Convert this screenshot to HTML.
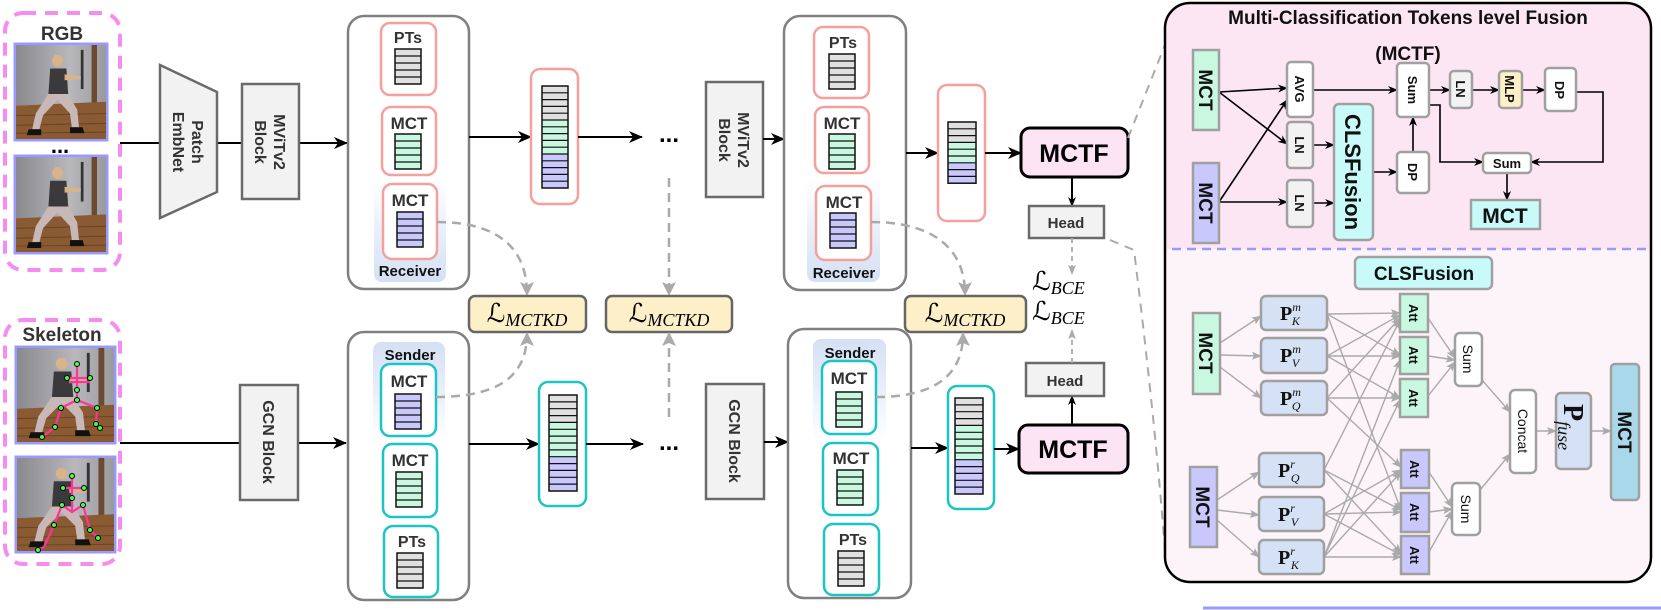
<!DOCTYPE html>
<html><head><meta charset="utf-8"><style>
html,body{margin:0;padding:0;background:#fff;}
svg{display:block;font-family:"Liberation Sans",sans-serif;}
.b{font-weight:bold;}
</style></head><body>
<svg width="1661" height="610" viewBox="0 0 1661 610" xmlns="http://www.w3.org/2000/svg">
<defs>
<marker id="ab" markerUnits="userSpaceOnUse" markerWidth="14" markerHeight="12" refX="13" refY="6" orient="auto"><path d="M0,0 L14,6 L0,12 L4,6 Z" fill="#000"/></marker>
<marker id="as" markerUnits="userSpaceOnUse" markerWidth="10" markerHeight="8" refX="9" refY="4" orient="auto"><path d="M0,0 L10,4 L0,8 L3,4 Z" fill="#000"/></marker>
<marker id="ag" markerUnits="userSpaceOnUse" markerWidth="14" markerHeight="14" refX="12" refY="7" orient="auto"><path d="M0,0 L14,7 L0,14 L3,7 Z" fill="#aaa"/></marker>
<marker id="ag2" markerUnits="userSpaceOnUse" markerWidth="10" markerHeight="8" refX="9" refY="4" orient="auto"><path d="M0,0 L10,4 L0,8 L2,4 Z" fill="#aaa"/></marker>
<linearGradient id="rcv" x1="0" y1="0" x2="0" y2="1"><stop offset="0" stop-color="#fff"/><stop offset="1" stop-color="#d4e0f4"/></linearGradient>
<linearGradient id="snd" x1="0" y1="0" x2="0" y2="1"><stop offset="0" stop-color="#d4e0f4"/><stop offset="1" stop-color="#fff"/></linearGradient>
<linearGradient id="wall" x1="0" y1="0" x2="1" y2="0"><stop offset="0" stop-color="#8a8a8e"/><stop offset="0.6" stop-color="#b8b8bc"/><stop offset="1" stop-color="#9a9a9e"/></linearGradient>
<g id="s5g"><rect width="26" height="35" fill="#e0e0e0" stroke="#111" stroke-width="1.5"/><path d="M0 7H26M0 14H26M0 21H26M0 28H26" stroke="#111" stroke-width="1.3"/></g>
<g id="s5n"><rect width="26" height="35" fill="#c8f8e0" stroke="#111" stroke-width="1.5"/><path d="M0 7H26M0 14H26M0 21H26M0 28H26" stroke="#111" stroke-width="1.3"/></g>
<g id="s5p"><rect width="26" height="35" fill="#c8c8fc" stroke="#111" stroke-width="1.5"/><path d="M0 7H26M0 14H26M0 21H26M0 28H26" stroke="#111" stroke-width="1.3"/></g>
<g id="s15"><rect width="26" height="34" fill="#e0e0e0"/><rect y="34" width="26" height="34" fill="#c8f8e0"/><rect y="68" width="26" height="34" fill="#c8c8fc"/><rect width="26" height="102" fill="none" stroke="#111" stroke-width="1.5"/><path d="M0 6.8H26M0 13.6H26M0 20.4H26M0 27.2H26M0 34H26M0 40.8H26M0 47.6H26M0 54.4H26M0 61.2H26M0 68H26M0 74.8H26M0 81.6H26M0 88.4H26M0 95.2H26" stroke="#111" stroke-width="1.2"/></g>
<g id="s9"><rect width="28" height="20.4" fill="#e0e0e0"/><rect y="20.4" width="28" height="20.4" fill="#c8f8e0"/><rect y="40.8" width="28" height="20.4" fill="#c8c8fc"/><rect width="28" height="61.2" fill="none" stroke="#111" stroke-width="1.5"/><path d="M0 6.8H28M0 13.6H28M0 20.4H28M0 27.2H28M0 34H28M0 40.8H28M0 47.6H28M0 54.4H28" stroke="#111" stroke-width="1.2"/></g>
<g id="s14"><rect width="28" height="27.4" fill="#e0e0e0"/><rect y="27.4" width="28" height="34.3" fill="#c8f8e0"/><rect y="61.7" width="28" height="34.3" fill="#c8c8fc"/><rect width="28" height="96" fill="none" stroke="#111" stroke-width="1.5"/><path d="M0 6.86H28M0 13.7H28M0 20.6H28M0 27.4H28M0 34.3H28M0 41.1H28M0 48H28M0 54.9H28M0 61.7H28M0 68.6H28M0 75.4H28M0 82.3H28M0 89.1H28" stroke="#111" stroke-width="1.2"/></g>
<symbol id="photo" viewBox="0 0 100 96" preserveAspectRatio="none">
<rect width="100" height="96" fill="url(#wall)"/>
<rect x="84" y="0" width="6" height="70" fill="#6a4a30"/>
<rect x="72" y="5" width="3" height="40" fill="#333"/>
<path d="M0 62 L100 58 L100 96 L0 96Z" fill="#8a5a32"/>
<path d="M0 72 L100 70 M0 82 L100 80 M0 90 L100 89" stroke="#6b4422" stroke-width="1"/>
<circle cx="46" cy="16" r="6" fill="#d9b48a"/>
<path d="M38 24 L56 24 L58 50 L36 50Z" fill="#3a3a3c"/>
<path d="M54 30 L72 32 L72 35 L54 36Z" fill="#d9b48a"/>
<path d="M36 50 L22 70 L18 86 L26 86 L30 72 L46 56 L60 70 L62 84 L70 84 L68 66 L58 50Z" fill="#c8b8b8"/>
<path d="M14 86 L28 86 L28 92 L12 92Z M60 84 L74 84 L76 90 L60 90Z" fill="#111"/>
</symbol>
</defs>

<!-- ============ LEFT INPUTS ============ -->
<rect x="5" y="13" width="115" height="257" rx="18" fill="none" stroke="#f78cf0" stroke-width="4" stroke-dasharray="13 9"/>
<text x="62" y="40" font-size="19" class="b" fill="#333" text-anchor="middle">RGB</text>
<rect x="15" y="44" width="92" height="96" fill="none" stroke="#9999ff" stroke-width="3"/>
<use href="#photo" x="16" y="45" width="90" height="94"/>
<text x="60" y="153" font-size="22" class="b" text-anchor="middle">...</text>
<rect x="15" y="156" width="92" height="97" fill="none" stroke="#9999ff" stroke-width="3"/>
<use href="#photo" x="16" y="157" width="90" height="95"/>

<rect x="5" y="320" width="115" height="244" rx="18" fill="none" stroke="#f78cf0" stroke-width="4" stroke-dasharray="13 9"/>
<text x="62" y="341" font-size="19" class="b" fill="#333" text-anchor="middle">Skeleton</text>
<rect x="16" y="347" width="99" height="96" fill="none" stroke="#9999ff" stroke-width="3"/>
<use href="#photo" x="17" y="348" width="97" height="94"/>
<path d="M77 364 L77 400 M67 378 L90 378 M61 408 L77 400 L97 408 L96 424 L100 428 M61 408 L55 427 L42 437 M70 382 L90 382" stroke="#ff3399" stroke-width="2.2" fill="none"/>
<g fill="#4f4" stroke="#000" stroke-width="1"><circle cx="77" cy="364" r="2.5"/><circle cx="67" cy="378" r="2.5"/><circle cx="90" cy="378" r="2.5"/><circle cx="77" cy="390" r="2.5"/><circle cx="77" cy="400" r="2.5"/><circle cx="61" cy="408" r="2.5"/><circle cx="97" cy="408" r="2.5"/><circle cx="96" cy="424" r="2.5"/><circle cx="100" cy="428" r="2.5"/><circle cx="55" cy="427" r="2.5"/><circle cx="42" cy="437" r="2.5"/></g>
<text x="64" y="460" font-size="22" class="b" text-anchor="middle">...</text>
<rect x="16" y="457" width="99" height="95" fill="none" stroke="#9999ff" stroke-width="3"/>
<use href="#photo" x="17" y="458" width="97" height="93"/>
<path d="M72 476 L72 512 M63 488 L84 488 M62 505 L72 512 L83 505 L90 530 L98 538 M62 505 L54 525 L44 547 L38 550" stroke="#ff3399" stroke-width="2.2" fill="none"/>
<g fill="#4f4" stroke="#000" stroke-width="1"><circle cx="72" cy="476" r="2.5"/><circle cx="63" cy="488" r="2.5"/><circle cx="84" cy="488" r="2.5"/><circle cx="72" cy="498" r="2.5"/><circle cx="62" cy="505" r="2.5"/><circle cx="83" cy="505" r="2.5"/><circle cx="90" cy="530" r="2.5"/><circle cx="98" cy="538" r="2.5"/><circle cx="54" cy="525" r="2.5"/><circle cx="38" cy="550" r="2.5"/></g>

<!-- ============ TOP STREAM ============ -->
<line x1="120" y1="143" x2="347" y2="143" stroke="#000" stroke-width="2" marker-end="url(#ab)"/>
<path d="M160 65 L217 92 L217 192 L160 218 Z" fill="#f2f2f2" stroke="#6a6a6a" stroke-width="2.5"/>
<text transform="rotate(90 188 142)" x="188" y="142" font-size="16" class="b" fill="#333" text-anchor="middle"><tspan x="188" dy="-4">Patch</tspan><tspan x="188" dy="19">EmbNet</tspan></text>
<rect x="242" y="84" width="57" height="115" fill="#f2f2f2" stroke="#6a6a6a" stroke-width="2.5"/>
<text transform="rotate(90 270 142)" x="270" y="142" font-size="16" class="b" fill="#333" text-anchor="middle"><tspan x="270" dy="-4">MViTv2</tspan><tspan x="270" dy="19">Block</tspan></text>

<rect x="348" y="16" width="121" height="273" rx="16" fill="#fff" stroke="#808080" stroke-width="2.5"/>
<rect x="381" y="23" width="55" height="72" rx="9" fill="#fff" stroke="#f4a09c" stroke-width="2.5"/>
<text x="408" y="43" font-size="16" class="b" fill="#333" text-anchor="middle">PTs</text>
<use href="#s5g" x="395" y="49"/>
<rect x="382" y="107" width="54" height="68" rx="9" fill="#fff" stroke="#f4a09c" stroke-width="2.5"/>
<text x="409" y="129" font-size="17" class="b" fill="#333" text-anchor="middle">MCT</text>
<use href="#s5n" x="395" y="134"/>
<rect x="374" y="180" width="72" height="102" rx="8" fill="url(#rcv)"/>
<rect x="383" y="184" width="54" height="75" rx="9" fill="#fff" stroke="#f4a09c" stroke-width="2.5"/>
<text x="410" y="206" font-size="17" class="b" fill="#333" text-anchor="middle">MCT</text>
<use href="#s5p" x="397" y="212"/>
<text x="410" y="276" font-size="15" class="b" fill="#111" text-anchor="middle">Receiver</text>

<line x1="469" y1="137" x2="531" y2="137" stroke="#000" stroke-width="2" marker-end="url(#ab)"/>
<rect x="531" y="69" width="47" height="135" rx="9" fill="#fff" stroke="#f4a09c" stroke-width="2.5"/>
<use href="#s15" x="542" y="86"/>
<line x1="578" y1="137" x2="642" y2="137" stroke="#000" stroke-width="2" marker-end="url(#ab)"/>
<text x="669" y="142" font-size="24" class="b" text-anchor="middle">...</text>

<line x1="669" y1="178" x2="669" y2="294" stroke="#aaa" stroke-width="2.5" stroke-dasharray="9 6" marker-end="url(#ag)"/>

<rect x="706" y="82" width="57" height="115" fill="#f2f2f2" stroke="#6a6a6a" stroke-width="2.5"/>
<text transform="rotate(90 734 140)" x="734" y="140" font-size="16" class="b" fill="#333" text-anchor="middle"><tspan x="734" dy="-4">MViTv2</tspan><tspan x="734" dy="19">Block</tspan></text>
<line x1="763" y1="139" x2="784" y2="139" stroke="#000" stroke-width="2" marker-end="url(#ab)"/>

<rect x="784" y="16" width="122" height="274" rx="16" fill="#fff" stroke="#808080" stroke-width="2.5"/>
<rect x="814" y="27" width="55" height="71" rx="9" fill="#fff" stroke="#f4a09c" stroke-width="2.5"/>
<text x="843" y="48" font-size="16" class="b" fill="#333" text-anchor="middle">PTs</text>
<use href="#s5g" x="829" y="54"/>
<rect x="815" y="107" width="54" height="66" rx="9" fill="#fff" stroke="#f4a09c" stroke-width="2.5"/>
<text x="842" y="129" font-size="17" class="b" fill="#333" text-anchor="middle">MCT</text>
<use href="#s5n" x="829" y="134"/>
<rect x="807" y="177" width="73" height="105" rx="8" fill="url(#rcv)"/>
<rect x="816" y="186" width="55" height="74" rx="9" fill="#fff" stroke="#f4a09c" stroke-width="2.5"/>
<text x="844" y="208" font-size="17" class="b" fill="#333" text-anchor="middle">MCT</text>
<use href="#s5p" x="830" y="213"/>
<text x="844" y="278" font-size="15" class="b" fill="#111" text-anchor="middle">Receiver</text>

<line x1="906" y1="153" x2="938" y2="153" stroke="#000" stroke-width="2" marker-end="url(#ab)"/>
<rect x="938" y="85" width="47" height="136" rx="9" fill="#fff" stroke="#f4a09c" stroke-width="2.5"/>
<use href="#s9" x="948" y="122"/>
<line x1="985" y1="153" x2="1021" y2="153" stroke="#000" stroke-width="2" marker-end="url(#ab)"/>
<rect x="1021" y="128" width="107" height="49" rx="9" fill="#fce4f4" stroke="#000" stroke-width="3"/>
<text x="1074" y="162" font-size="25" class="b" text-anchor="middle">MCTF</text>
<line x1="1072" y1="177" x2="1072" y2="206" stroke="#000" stroke-width="2" marker-end="url(#as)"/>
<rect x="1029" y="206" width="75" height="32" fill="#f2f2f2" stroke="#6a6a6a" stroke-width="2.5"/>
<text x="1066" y="228" font-size="15" class="b" fill="#333" text-anchor="middle">Head</text>
<line x1="1072" y1="238" x2="1072" y2="274" stroke="#aaa" stroke-width="1.8" stroke-dasharray="5 4" marker-end="url(#ag2)"/>

<path d="M437 222 C500 222 527 250 527 294" fill="none" stroke="#aaa" stroke-width="2.5" stroke-dasharray="9 6" marker-end="url(#ag)"/>
<path d="M871 222 C935 222 965 250 965 294" fill="none" stroke="#aaa" stroke-width="2.5" stroke-dasharray="9 6" marker-end="url(#ag)"/>

<g font-family="'Liberation Serif','DejaVu Serif',serif">
<rect x="469" y="296" width="117" height="36" rx="6" fill="#fdf0c8" stroke="#666" stroke-width="2.5"/>
<text x="527" y="322" text-anchor="middle"><tspan font-size="26">ℒ</tspan><tspan font-size="18" font-style="italic" dy="4">MCTKD</tspan></text>
<rect x="606" y="296" width="126" height="36" rx="6" fill="#fdf0c8" stroke="#666" stroke-width="2.5"/>
<text x="669" y="322" text-anchor="middle"><tspan font-size="26">ℒ</tspan><tspan font-size="18" font-style="italic" dy="4">MCTKD</tspan></text>
<rect x="905" y="296" width="121" height="36" rx="6" fill="#fdf0c8" stroke="#666" stroke-width="2.5"/>
<text x="965" y="322" text-anchor="middle"><tspan font-size="26">ℒ</tspan><tspan font-size="18" font-style="italic" dy="4">MCTKD</tspan></text>
<text x="1032" y="290"><tspan font-size="26">ℒ</tspan><tspan font-size="18" font-style="italic" dy="4">BCE</tspan></text>
<text x="1032" y="320"><tspan font-size="26">ℒ</tspan><tspan font-size="18" font-style="italic" dy="4">BCE</tspan></text>
</g>

<!-- ============ BOTTOM STREAM ============ -->
<line x1="120" y1="443" x2="346" y2="443" stroke="#000" stroke-width="2" marker-end="url(#ab)"/>
<rect x="240" y="385" width="58" height="115" fill="#f2f2f2" stroke="#6a6a6a" stroke-width="2.5"/>
<text transform="rotate(90 269 442)" x="269" y="448" font-size="16" class="b" fill="#333" text-anchor="middle">GCN Block</text>

<rect x="348" y="332" width="121" height="268" rx="16" fill="#fff" stroke="#808080" stroke-width="2.5"/>
<rect x="373" y="342" width="72" height="101" rx="8" fill="url(#snd)"/>
<text x="410" y="360" font-size="15" class="b" fill="#111" text-anchor="middle">Sender</text>
<rect x="381" y="364" width="55" height="72" rx="9" fill="#fff" stroke="#1cc4c4" stroke-width="2.5"/>
<text x="409" y="387" font-size="17" class="b" fill="#333" text-anchor="middle">MCT</text>
<use href="#s5p" x="395" y="394"/>
<rect x="383" y="444" width="54" height="73" rx="9" fill="#fff" stroke="#1cc4c4" stroke-width="2.5"/>
<text x="410" y="466" font-size="17" class="b" fill="#333" text-anchor="middle">MCT</text>
<use href="#s5n" x="396" y="472"/>
<rect x="384" y="526" width="54" height="71" rx="9" fill="#fff" stroke="#1cc4c4" stroke-width="2.5"/>
<text x="412" y="547" font-size="16" class="b" fill="#333" text-anchor="middle">PTs</text>
<use href="#s5g" x="397" y="553"/>

<line x1="469" y1="444" x2="539" y2="444" stroke="#000" stroke-width="2" marker-end="url(#ab)"/>
<rect x="539" y="382" width="47" height="124" rx="9" fill="#fff" stroke="#1cc4c4" stroke-width="2.5"/>
<use href="#s14" x="549" y="395"/>
<line x1="586" y1="444" x2="643" y2="444" stroke="#000" stroke-width="2" marker-end="url(#ab)"/>
<text x="669" y="450" font-size="24" class="b" text-anchor="middle">...</text>
<line x1="669" y1="417" x2="669" y2="334" stroke="#aaa" stroke-width="2.5" stroke-dasharray="9 6" marker-end="url(#ag)"/>

<rect x="706" y="384" width="58" height="115" fill="#f2f2f2" stroke="#6a6a6a" stroke-width="2.5"/>
<text transform="rotate(90 735 441)" x="735" y="447" font-size="16" class="b" fill="#333" text-anchor="middle">GCN Block</text>
<line x1="764" y1="442" x2="788" y2="442" stroke="#000" stroke-width="2" marker-end="url(#ab)"/>

<rect x="788" y="329" width="123" height="269" rx="16" fill="#fff" stroke="#808080" stroke-width="2.5"/>
<rect x="813" y="339" width="73" height="103" rx="8" fill="url(#snd)"/>
<text x="850" y="358" font-size="15" class="b" fill="#111" text-anchor="middle">Sender</text>
<rect x="822" y="361" width="54" height="73" rx="9" fill="#fff" stroke="#1cc4c4" stroke-width="2.5"/>
<text x="849" y="384" font-size="17" class="b" fill="#333" text-anchor="middle">MCT</text>
<use href="#s5n" x="836" y="392"/>
<rect x="823" y="443" width="55" height="72" rx="9" fill="#fff" stroke="#1cc4c4" stroke-width="2.5"/>
<text x="851" y="464" font-size="17" class="b" fill="#333" text-anchor="middle">MCT</text>
<use href="#s5n" x="837" y="470"/>
<rect x="824" y="524" width="55" height="71" rx="9" fill="#fff" stroke="#1cc4c4" stroke-width="2.5"/>
<text x="853" y="545" font-size="16" class="b" fill="#333" text-anchor="middle">PTs</text>
<use href="#s5g" x="838" y="551"/>

<line x1="911" y1="448" x2="948" y2="448" stroke="#000" stroke-width="2" marker-end="url(#ab)"/>
<rect x="948" y="386" width="46" height="123" rx="9" fill="#fff" stroke="#1cc4c4" stroke-width="2.5"/>
<use href="#s14" x="955" y="398"/>
<line x1="994" y1="449" x2="1019" y2="449" stroke="#000" stroke-width="2" marker-end="url(#ab)"/>
<rect x="1019" y="425" width="109" height="48" rx="9" fill="#fce4f4" stroke="#000" stroke-width="3"/>
<text x="1073" y="458" font-size="25" class="b" text-anchor="middle">MCTF</text>
<line x1="1072" y1="425" x2="1072" y2="396" stroke="#000" stroke-width="2" marker-end="url(#as)"/>
<rect x="1026" y="363" width="78" height="33" fill="#f2f2f2" stroke="#6a6a6a" stroke-width="2.5"/>
<text x="1065" y="386" font-size="15" class="b" fill="#333" text-anchor="middle">Head</text>
<line x1="1072" y1="363" x2="1072" y2="330" stroke="#aaa" stroke-width="1.8" stroke-dasharray="5 4" marker-end="url(#ag2)"/>

<path d="M436 397 C500 397 527 375 527 334" fill="none" stroke="#aaa" stroke-width="2.5" stroke-dasharray="9 6" marker-end="url(#ag)"/>
<path d="M876 397 C935 397 963 375 963 334" fill="none" stroke="#aaa" stroke-width="2.5" stroke-dasharray="9 6" marker-end="url(#ag)"/>

<path d="M1128 138 L1165 45" stroke="#aaa" stroke-width="2" stroke-dasharray="9 7" fill="none"/>
<path d="M1110 240 L1134 250 C1150 380 1160 480 1166 565" stroke="#aaa" stroke-width="2" stroke-dasharray="9 7" fill="none"/>

<!-- ============ RIGHT PANEL ============ -->
<rect x="1165" y="3" width="486" height="579" rx="25" fill="#fdf4f9"/>
<path d="M1165 249 V28 Q1165 3 1190 3 H1626 Q1651 3 1651 28 V249 Z" fill="#fde6f4"/>
<rect x="1165" y="3" width="486" height="579" rx="25" fill="none" stroke="#000" stroke-width="2.5"/>
<text x="1408" y="24" font-size="19" class="b" fill="#111" text-anchor="middle">Multi-Classification Tokens level Fusion</text>
<text x="1408" y="60" font-size="19" class="b" fill="#111" text-anchor="middle">(MCTF)</text>
<line x1="1172" y1="249" x2="1651" y2="249" stroke="#9999ff" stroke-width="2.5" stroke-dasharray="9 6"/>
<line x1="1203" y1="608" x2="1661" y2="608" stroke="#9999ff" stroke-width="3"/>

<g stroke="#000" stroke-width="1.6" fill="none">
<line x1="1219" y1="92" x2="1287" y2="88" marker-end="url(#as)"/>
<line x1="1219" y1="92" x2="1287" y2="144" marker-end="url(#as)"/>
<line x1="1219" y1="202" x2="1287" y2="100" marker-end="url(#as)"/>
<line x1="1219" y1="202" x2="1287" y2="202" marker-end="url(#as)"/>
<line x1="1313" y1="145" x2="1334" y2="145" marker-end="url(#as)"/>
<line x1="1313" y1="203" x2="1334" y2="203" marker-end="url(#as)"/>
<line x1="1313" y1="90" x2="1397" y2="90" marker-end="url(#as)"/>
<line x1="1373" y1="172" x2="1397" y2="172" marker-end="url(#as)"/>
<line x1="1413" y1="152" x2="1413" y2="117" marker-end="url(#as)"/>
<line x1="1429" y1="90" x2="1450" y2="90" marker-end="url(#as)"/>
<line x1="1472" y1="90" x2="1499" y2="90" marker-end="url(#as)"/>
<line x1="1522" y1="90" x2="1545" y2="90" marker-end="url(#as)"/>
<polyline points="1576,92 1603,92 1603,162 1531,162" marker-end="url(#as)"/>
<polyline points="1429,105 1440,105 1440,162 1483,162" marker-end="url(#as)"/>
<line x1="1507" y1="173" x2="1507" y2="200" marker-end="url(#as)"/>
</g>
<g stroke="#a0a0a0" stroke-width="2.5">
<rect x="1193" y="50" width="26" height="80" fill="#c8f8e0"/>
<rect x="1193" y="163" width="26" height="80" fill="#c8c8fc"/>
<rect x="1287" y="62" width="26" height="55" rx="4" fill="#fff"/>
<rect x="1287" y="122" width="26" height="46" rx="4" fill="#f2f2f2"/>
<rect x="1287" y="180" width="26" height="47" rx="4" fill="#f2f2f2"/>
<rect x="1334" y="104" width="39" height="136" rx="5" fill="#c8fafa"/>
<rect x="1397" y="63" width="32" height="54" rx="4" fill="#fff"/>
<rect x="1397" y="152" width="32" height="41" rx="4" fill="#fff"/>
<rect x="1450" y="71" width="22" height="37" rx="4" fill="#f2f2f2"/>
<rect x="1499" y="71" width="23" height="37" rx="4" fill="#fdf0c8"/>
<rect x="1545" y="68" width="31" height="43" rx="4" fill="#fff"/>
<rect x="1483" y="153" width="48" height="20" rx="4" fill="#fff"/>
<rect x="1471" y="200" width="69" height="29" fill="#c8fafa"/>
</g>
<g class="b" fill="#111" text-anchor="middle">
<text transform="rotate(90 1206 90)" x="1206" y="97" font-size="19">MCT</text>
<text transform="rotate(90 1206 203)" x="1206" y="210" font-size="19">MCT</text>
<text transform="rotate(90 1300 89)" x="1300" y="94" font-size="13">AVG</text>
<text transform="rotate(90 1300 145)" x="1300" y="150" font-size="13">LN</text>
<text transform="rotate(90 1300 203)" x="1300" y="208" font-size="13">LN</text>
<text transform="rotate(90 1353 172)" x="1353" y="180" font-size="22">CLSFusion</text>
<text transform="rotate(90 1413 90)" x="1413" y="95" font-size="13">Sum</text>
<text transform="rotate(90 1413 172)" x="1413" y="177" font-size="13">DP</text>
<text transform="rotate(90 1461 89)" x="1461" y="94" font-size="13">LN</text>
<text transform="rotate(90 1510 89)" x="1510" y="94" font-size="13">MLP</text>
<text transform="rotate(90 1560 90)" x="1560" y="95" font-size="13">DP</text>
<text x="1507" y="168" font-size="13">Sum</text>
<text x="1505" y="223" font-size="21">MCT</text>
</g>

<g stroke="#aaa" stroke-width="1.4" fill="none">
<line x1="1220" y1="343" x2="1261" y2="316" marker-end="url(#ag2)"/>
<line x1="1220" y1="355" x2="1261" y2="356" marker-end="url(#ag2)"/>
<line x1="1220" y1="367" x2="1261" y2="398" marker-end="url(#ag2)"/>
<line x1="1217" y1="500" x2="1259" y2="472" marker-end="url(#ag2)"/>
<line x1="1217" y1="510" x2="1259" y2="515" marker-end="url(#ag2)"/>
<line x1="1217" y1="520" x2="1259" y2="557" marker-end="url(#ag2)"/>
<line x1="1327" y1="314" x2="1400" y2="313" marker-end="url(#ag2)"/>
<line x1="1327" y1="314" x2="1400" y2="355" marker-end="url(#ag2)"/>
<line x1="1327" y1="314" x2="1401" y2="510" marker-end="url(#ag2)"/>
<line x1="1327" y1="356" x2="1400" y2="315" marker-end="url(#ag2)"/>
<line x1="1327" y1="356" x2="1400" y2="356" marker-end="url(#ag2)"/>
<line x1="1327" y1="356" x2="1400" y2="398" marker-end="url(#ag2)"/>
<line x1="1327" y1="398" x2="1400" y2="318" marker-end="url(#ag2)"/>
<line x1="1327" y1="398" x2="1400" y2="398" marker-end="url(#ag2)"/>
<line x1="1327" y1="398" x2="1401" y2="467" marker-end="url(#ag2)"/>
<line x1="1324" y1="470" x2="1400" y2="320" marker-end="url(#ag2)"/>
<line x1="1324" y1="470" x2="1401" y2="510" marker-end="url(#ag2)"/>
<line x1="1324" y1="470" x2="1401" y2="553" marker-end="url(#ag2)"/>
<line x1="1324" y1="514" x2="1401" y2="470" marker-end="url(#ag2)"/>
<line x1="1324" y1="514" x2="1401" y2="512" marker-end="url(#ag2)"/>
<line x1="1324" y1="514" x2="1401" y2="555" marker-end="url(#ag2)"/>
<line x1="1324" y1="557" x2="1400" y2="360" marker-end="url(#ag2)"/>
<line x1="1324" y1="557" x2="1401" y2="472" marker-end="url(#ag2)"/>
<line x1="1324" y1="557" x2="1401" y2="557" marker-end="url(#ag2)"/>
<line x1="1324" y1="557" x2="1400" y2="400" marker-end="url(#ag2)"/>
<line x1="1428" y1="318" x2="1455" y2="358" marker-end="url(#ag2)"/>
<line x1="1428" y1="356" x2="1455" y2="360" marker-end="url(#ag2)"/>
<line x1="1428" y1="396" x2="1455" y2="362" marker-end="url(#ag2)"/>
<line x1="1429" y1="472" x2="1452" y2="507" marker-end="url(#ag2)"/>
<line x1="1429" y1="512" x2="1452" y2="509" marker-end="url(#ag2)"/>
<line x1="1429" y1="552" x2="1452" y2="511" marker-end="url(#ag2)"/>
<line x1="1482" y1="380" x2="1510" y2="412" marker-end="url(#ag2)"/>
<line x1="1480" y1="490" x2="1510" y2="454" marker-end="url(#ag2)"/>
<line x1="1536" y1="431" x2="1556" y2="431" marker-end="url(#ag2)"/>
<line x1="1591" y1="431" x2="1611" y2="431" marker-end="url(#ag2)"/>
</g>
<g stroke="#a0a0a0" stroke-width="2.5">
<rect x="1355" y="257" width="137" height="32" rx="5" fill="#c8fafa"/>
<rect x="1193" y="313" width="27" height="81" fill="#c8f8e0"/>
<rect x="1190" y="467" width="27" height="80" fill="#c8c8fc"/>
<rect x="1261" y="296" width="66" height="34" rx="5" fill="#d5e1f4"/>
<rect x="1261" y="338" width="66" height="35" rx="5" fill="#d5e1f4"/>
<rect x="1261" y="381" width="66" height="34" rx="5" fill="#d5e1f4"/>
<rect x="1259" y="453" width="65" height="34" rx="5" fill="#d5e1f4"/>
<rect x="1259" y="497" width="65" height="34" rx="5" fill="#d5e1f4"/>
<rect x="1259" y="540" width="65" height="34" rx="5" fill="#d5e1f4"/>
<rect x="1400" y="294" width="28" height="38" fill="#c8f8e0"/>
<rect x="1400" y="337" width="28" height="37" fill="#c8f8e0"/>
<rect x="1400" y="379" width="28" height="38" fill="#c8f8e0"/>
<rect x="1401" y="450" width="28" height="38" fill="#c8c8fc"/>
<rect x="1401" y="493" width="28" height="39" fill="#c8c8fc"/>
<rect x="1401" y="536" width="28" height="38" fill="#c8c8fc"/>
<rect x="1455" y="333" width="27" height="53" rx="5" fill="#fff"/>
<rect x="1452" y="483" width="28" height="52" rx="5" fill="#fff"/>
<rect x="1510" y="390" width="26" height="83" rx="5" fill="#fff"/>
<rect x="1556" y="393" width="35" height="76" rx="5" fill="#d5e1f4"/>
<rect x="1611" y="364" width="28" height="136" rx="4" fill="#a9d8ea"/>
</g>
<g class="b" fill="#111" text-anchor="middle">
<text x="1424" y="280" font-size="19">CLSFusion</text>
<text transform="rotate(90 1206 353)" x="1206" y="360" font-size="19">MCT</text>
<text transform="rotate(90 1203 507)" x="1203" y="514" font-size="19">MCT</text>
<text transform="rotate(90 1414 313)" x="1414" y="318" font-size="13">Att</text>
<text transform="rotate(90 1414 355)" x="1414" y="360" font-size="13">Att</text>
<text transform="rotate(90 1414 398)" x="1414" y="403" font-size="13">Att</text>
<text transform="rotate(90 1415 469)" x="1415" y="474" font-size="13">Att</text>
<text transform="rotate(90 1415 512)" x="1415" y="517" font-size="13">Att</text>
<text transform="rotate(90 1415 555)" x="1415" y="560" font-size="13">Att</text>
<text transform="rotate(90 1468 359)" x="1468" y="364" font-size="14" font-weight="normal">Sum</text>
<text transform="rotate(90 1466 509)" x="1466" y="514" font-size="14" font-weight="normal">Sum</text>
<text transform="rotate(90 1523 431)" x="1523" y="436" font-size="14" font-weight="normal">Concat</text>
<text transform="rotate(90 1625 432)" x="1625" y="439" font-size="19">MCT</text>
</g>
<g font-family="'Liberation Serif','DejaVu Serif',serif" fill="#111">
<text x="1280" y="320" font-size="20" font-weight="bold">P<tspan font-size="12" font-style="italic" font-weight="normal" dy="-9">m</tspan><tspan font-size="12" font-style="italic" font-weight="normal" dx="-9" dy="14">K</tspan></text>
<text x="1280" y="362" font-size="20" font-weight="bold">P<tspan font-size="12" font-style="italic" font-weight="normal" dy="-9">m</tspan><tspan font-size="12" font-style="italic" font-weight="normal" dx="-9" dy="14">V</tspan></text>
<text x="1280" y="405" font-size="20" font-weight="bold">P<tspan font-size="12" font-style="italic" font-weight="normal" dy="-9">m</tspan><tspan font-size="12" font-style="italic" font-weight="normal" dx="-9" dy="14">Q</tspan></text>
<text x="1278" y="477" font-size="20" font-weight="bold">P<tspan font-size="12" font-style="italic" font-weight="normal" dy="-9">r</tspan><tspan font-size="12" font-style="italic" font-weight="normal" dx="-4" dy="14">Q</tspan></text>
<text x="1278" y="521" font-size="20" font-weight="bold">P<tspan font-size="12" font-style="italic" font-weight="normal" dy="-9">r</tspan><tspan font-size="12" font-style="italic" font-weight="normal" dx="-4" dy="14">V</tspan></text>
<text x="1278" y="564" font-size="20" font-weight="bold">P<tspan font-size="12" font-style="italic" font-weight="normal" dy="-9">r</tspan><tspan font-size="12" font-style="italic" font-weight="normal" dx="-4" dy="14">K</tspan></text>
<text transform="rotate(90 1573 431)" x="1546" y="440" font-size="28" font-weight="bold">P<tspan font-size="18" font-style="italic" font-weight="normal" dy="6">fuse</tspan></text>
</g>
</svg>
</body></html>
